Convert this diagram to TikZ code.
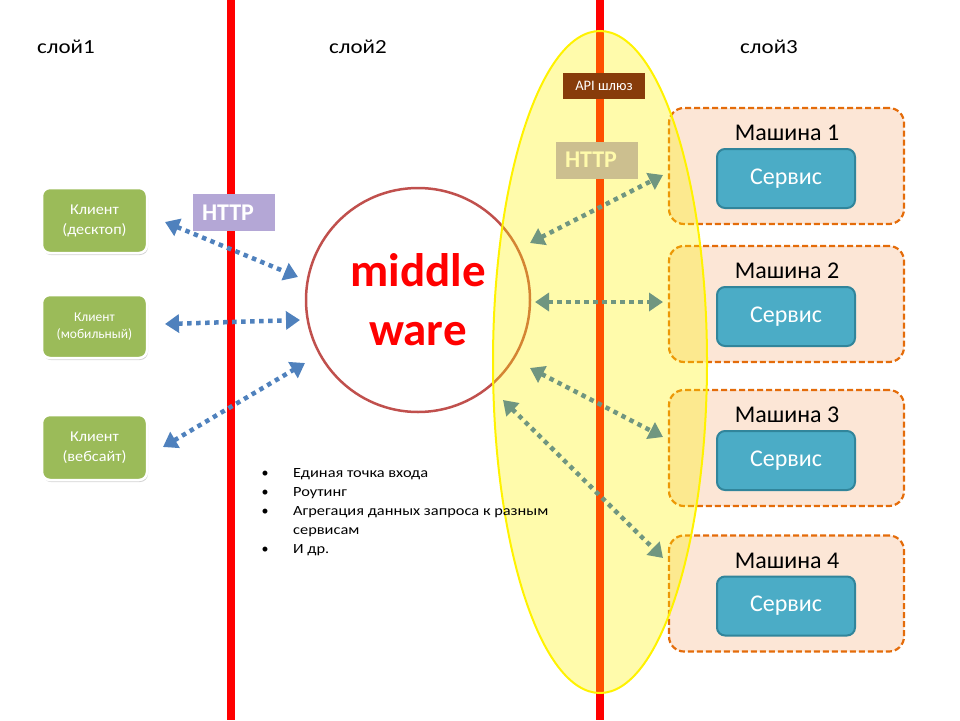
\documentclass[tikz,border=0pt]{standalone}
\usepackage{fontspec}
\setmainfont{Carlito}
\newfontfamily\widefont[FakeStretch=1.17]{Carlito}
\newfontfamily\midfont[FakeStretch=1.15]{Carlito}
\newfontfamily\slightfont[FakeStretch=1.08]{Carlito}
\usetikzlibrary{arrows.meta,shapes.geometric,shadows}
\definecolor{lineRed}{RGB}{255,0,0}
\definecolor{clientGreen}{RGB}{155,187,89}
\definecolor{httpLav}{RGB}{180,167,214}
\definecolor{mwBorder}{RGB}{192,80,77}
\definecolor{arrBlue}{RGB}{79,129,189}
\definecolor{arrGrey}{RGB}{112,150,128}
\definecolor{machFill}{RGB}{252,230,214}
\definecolor{machBorder}{RGB}{228,108,10}
\definecolor{servFill}{RGB}{75,172,198}
\definecolor{servBorder}{RGB}{49,133,155}
\definecolor{apiBrown}{RGB}{135,60,10}
\begin{document}
\begin{tikzpicture}[x=1pt,y=-1pt,
  layerlabel/.style={font=\midfont\fontsize{20}{22}\selectfont, text=black},
  redlinestyle/.style={draw=lineRed, line width=8pt},
  clientbox/.style={fill=clientGreen, draw=white, line width=2.5pt, rounded corners=8pt,
    minimum width=105pt, inner sep=0pt, text=white, align=center,
    drop shadow={opacity=0.35, shadow xshift=1pt, shadow yshift=-2pt}},
  httpbox/.style={fill=httpLav, text=white, minimum width=82pt, minimum height=37pt,
    inner sep=0pt, font=\bfseries\fontsize{24}{26}\selectfont},
  bluearrow/.style={draw=arrBlue, line width=4.5pt, dash pattern=on 4.5pt off 4.5pt,
    {Triangle[length=14pt,width=18pt]}-{Triangle[length=14pt,width=18pt]}},
  greyarrow/.style={draw=arrGrey, line width=4.5pt, dash pattern=on 4.5pt off 4.5pt,
    {Triangle[length=14pt,width=18pt]}-{Triangle[length=14pt,width=18pt]}},
  machbox/.style={fill=machFill, draw=machBorder, line width=2.2pt, dash pattern=on 6pt off 3pt,
    rounded corners=15pt, minimum width=235pt, minimum height=116pt, inner sep=0pt},
  machlabel/.style={font=\fontsize{24}{26}\selectfont, text=black},
  servbox/.style={fill=servFill, draw=servBorder, line width=2pt, rounded corners=8pt,
    minimum width=138pt, minimum height=59pt, inner sep=0pt, text=white,
    font=\fontsize{24}{26}\selectfont},
  bulletdot/.style={font=\fontsize{14}{16}\selectfont},
  bullettext/.style={anchor=west, inner sep=0pt, font=\widefont\fontsize{14}{16}\selectfont}
]
\useasboundingbox (0,0) rectangle (960,720);

% layer labels
\node[layerlabel] (l1) at (66,47) {слой1};
\node[layerlabel] (l2) at (358,47) {слой2};
\node[layerlabel] (l3) at (769,47) {слой3};

% red lines
\coordinate (r1t) at (231,0); \coordinate (r1b) at (231,720);
\coordinate (r2t) at (600,0); \coordinate (r2b) at (600,720);
\draw[redlinestyle] (r1t) -- (r1b);
\draw[redlinestyle] (r2t) -- (r2b);

% machines
\foreach \i/\yc in {1/166,2/304,3/448,4/593.5}{
  \node[machbox] (m\i) at (786.5,\yc) {};
  \node[machlabel] (ml\i) at (787,\yc-33) {Машина \i};
  \node[servbox] (s\i) at (786,\yc+12.5) {Сервис};
}

% right HTTP (under the gateway ellipse)
\node[httpbox, text width=64pt, align=left, inner xsep=9pt] (http2) at (597,160) {HTTP};

% middleware circle
\node[circle, draw=mwBorder, line width=2.5pt, minimum size=224pt, inner sep=0pt,
  text=red, align=center, font=\bfseries\fontsize{47}{59}\selectfont] (mw) at (418,300) {middle\\ware};

% gateway ellipse
\node[ellipse, draw=yellow, line width=2pt, fill=yellow, fill opacity=0.33,
  minimum width=214pt, minimum height=662pt, inner sep=0pt] (gw) at (600,362) {};

% API box
\node[fill=apiBrown, text=white, minimum width=82pt, minimum height=26pt, inner sep=0pt,
  font=\fontsize{14.5}{16}\selectfont] (api) at (604,86) {API шлюз};

% clients
\node[clientbox, minimum height=65pt, font=\slightfont\fontsize{15}{20}\selectfont] (c1) at (94.5,220.5) {Клиент\\(десктоп)};
\node[clientbox, minimum height=63pt, font=\fontsize{13.5}{17}\selectfont] (c2) at (94.5,326.5) {Клиент\\(мобильный)};
\node[clientbox, minimum height=65pt, font=\slightfont\fontsize{15}{20}\selectfont] (c3) at (94.5,447.5) {Клиент\\(вебсайт)};

% left HTTP
\node[httpbox, text width=64pt, align=left, inner xsep=9pt] (http1) at (234,212.5) {HTTP};

% blue arrows
\coordinate (b1s) at (165,222); \coordinate (b1e) at (298,277);
\coordinate (b2s) at (165,324); \coordinate (b2e) at (300,320);
\coordinate (b3s) at (163,447); \coordinate (b3e) at (305,363);
\draw[bluearrow] (b1s) -- (b1e);
\draw[bluearrow] (b2s) -- (b2e);
\draw[bluearrow] (b3s) -- (b3e);

% grey arrows
\coordinate (g1s) at (530,243); \coordinate (g1e) at (663,175);
\coordinate (g2s) at (535,302); \coordinate (g2e) at (663,302);
\coordinate (g3s) at (530,368); \coordinate (g3e) at (663,437);
\coordinate (g4s) at (503,400); \coordinate (g4e) at (663,558);
\draw[greyarrow] (g1s) -- (g1e);
\draw[greyarrow] (g2s) -- (g2e);
\draw[greyarrow] (g3s) -- (g3e);
\draw[greyarrow] (g4s) -- (g4e);

% bullet list
\node[bulletdot] (d1) at (265,474) {•};
\node[bullettext] (t1) at (293,474) {Единая точка входа};
\node[bulletdot] (d2) at (265,493) {•};
\node[bullettext] (t2) at (293,493) {Роутинг};
\node[bulletdot] (d3) at (265,512) {•};
\node[bullettext] (t3) at (293,512) {Агрегация данных запроса к разным};
\node[bullettext] (t3b) at (293,532) {сервисам};
\node[bulletdot] (d4) at (265,550) {•};
\node[bullettext] (t4) at (293,550) {И др.};
\end{tikzpicture}
\end{document}
